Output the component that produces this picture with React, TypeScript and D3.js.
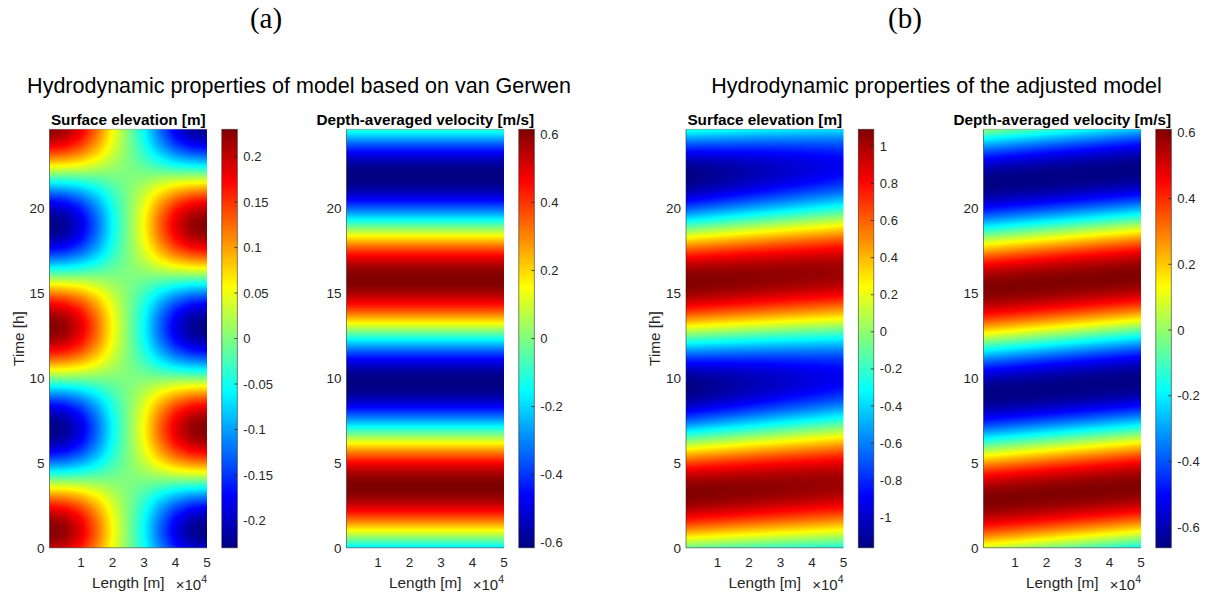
import React, { useMemo } from 'react';
import * as d3 from 'd3';

// ---------- data ----------
const timeDomainH = [0, 24.65];
const lengthDomainM = [0, 50000];
const xTickValues = [10000, 20000, 30000, 40000, 50000];
const xTickLabels = ['1', '2', '3', '4', '5'];
const yTickValues = [0, 5, 10, 15, 20];

const figureLabels = ['(a)', '(b)'];
const groupTitles = [
  'Hydrodynamic properties of model based on van Gerwen',
  'Hydrodynamic properties of the adjusted model',
];
const panelTitles = [
  'Surface elevation [m]',
  'Depth-averaged velocity [m/s]',
  'Surface elevation [m]',
  'Depth-averaged velocity [m/s]',
];
const showYLabel = [true, false, true, false];

const colorbarDomains = [
  [-0.23, 0.23],
  [-0.615, 0.615],
  [-1.165, 1.092],
  [-0.663, 0.611],
];
const colorbarTicks = [
  [-0.2, -0.15, -0.1, -0.05, 0, 0.05, 0.1, 0.15, 0.2],
  [-0.6, -0.4, -0.2, 0, 0.2, 0.4, 0.6],
  [-1, -0.8, -0.6, -0.4, -0.2, 0, 0.2, 0.4, 0.6, 0.8, 1],
  [-0.6, -0.4, -0.2, 0, 0.2, 0.4, 0.6],
];

// tidal wave (values at x = 0 and at x = L)
const waveKind = ['standing', 'uniform', 'progressive', 'progressive'];
const wavePeriodH = [12.0, 12.2, 12.45, 12.45];
const peakTimeX0H = [1.0, 3.6, 3.2, 2.8];
const peakTimeXLH = [1.0, 3.6, 3.8, 3.6];
const maxX0 = [0.23, 0.615, 1.09, 0.61];
const minX0 = [-0.23, -0.615, -1.165, -0.66];
const maxXL = [0.23, 0.615, 1.03, 0.61];
const minXL = [-0.23, -0.615, -0.9, -0.66];

// standing-wave elevation (panel a, left): relative amplitude along the basin
const standingProfileX = [0, 5000, 10000, 15000, 20000, 25000, 30000, 35000, 40000, 45000, 50000];
const standingProfileRel = [1, 0.95, 0.8, 0.55, 0.25, 0, -0.25, -0.55, -0.8, -0.95, -1];

// MATLAB jet colormap anchors
const jetPositions = [0, 0.125, 0.375, 0.625, 0.875, 1];
const jetColors = ['#000080', '#0000ff', '#00ffff', '#ffff00', '#ff0000', '#800000'];

// ---------- layout ----------
const W = 1212;
const H = 595;
const plotLefts = [49.5, 346.5, 686, 983.5];
const plotW = 157.5;
const plotTop = 129.3;
const plotBottom = 547.8;
const cbarOffset = 172.3;
const cbarW = 15.5;
const groupCenters = [299, 936.5];
const labelCenters = [266, 905];

const FONT = '"Liberation Sans", Arial, Helvetica, sans-serif';
const AX = '#262626';

const jet = d3
  .scaleLinear<string>()
  .domain(jetPositions)
  .range(jetColors)
  .interpolate(d3.interpolateRgb)
  .clamp(true);

const LUT = d3.range(256).map((i) => d3.rgb(jet(i / 255)));

const standingProfile = d3
  .scaleLinear()
  .domain(standingProfileX)
  .range(standingProfileRel)
  .clamp(true);

function fieldValue(i: number, x: number, t: number): number {
  const L = lengthDomainM[1];
  const f = x / L;
  const T = wavePeriodH[i];
  if (waveKind[i] === 'standing') {
    const A = maxX0[i];
    return A * standingProfile(x) * Math.cos((2 * Math.PI * (t - peakTimeX0H[i])) / T);
  }
  const tp = peakTimeX0H[i] + (peakTimeXLH[i] - peakTimeX0H[i]) * f;
  const mx = maxX0[i] + (maxXL[i] - maxX0[i]) * f;
  const mn = minX0[i] + (minXL[i] - minX0[i]) * f;
  const mid = (mx + mn) / 2;
  const amp = (mx - mn) / 2;
  return mid + amp * Math.cos((2 * Math.PI * (t - tp)) / T);
}

function makeFieldImage(i: number, xs: d3.ScaleLinear<number, number>, ys: d3.ScaleLinear<number, number>) {
  const w = Math.round(plotW * 2);
  const h = Math.round((plotBottom - plotTop) * 2);
  const canvas = document.createElement('canvas');
  canvas.width = w;
  canvas.height = h;
  const ctx = canvas.getContext('2d');
  if (!ctx) return '';
  const img = ctx.createImageData(w, h);
  const cs = d3.scaleLinear().domain(colorbarDomains[i]).range([0, 255]).clamp(true);
  const x0 = xs.range()[0];
  for (let py = 0; py < h; py++) {
    const t = ys.invert(plotTop + ((py + 0.5) / h) * (plotBottom - plotTop));
    for (let px = 0; px < w; px++) {
      const x = xs.invert(x0 + ((px + 0.5) / w) * plotW);
      const v = fieldValue(i, x, t);
      const c = LUT[Math.round(cs(v))];
      const k = (py * w + px) * 4;
      img.data[k] = c.r;
      img.data[k + 1] = c.g;
      img.data[k + 2] = c.b;
      img.data[k + 3] = 255;
    }
  }
  ctx.putImageData(img, 0, 0);
  return canvas.toDataURL();
}

function makeColorbarImage() {
  const h = 512;
  const canvas = document.createElement('canvas');
  canvas.width = 1;
  canvas.height = h;
  const ctx = canvas.getContext('2d');
  if (!ctx) return '';
  const img = ctx.createImageData(1, h);
  for (let py = 0; py < h; py++) {
    const c = LUT[Math.round(255 * (1 - (py + 0.5) / h))];
    img.data[py * 4] = c.r;
    img.data[py * 4 + 1] = c.g;
    img.data[py * 4 + 2] = c.b;
    img.data[py * 4 + 3] = 255;
  }
  ctx.putImageData(img, 0, 0);
  return canvas.toDataURL();
}

function Panel({ i, cbarUrl }: { i: number; cbarUrl: string }) {
  const left = plotLefts[i];
  const xs = d3.scaleLinear().domain(lengthDomainM).range([left, left + plotW]);
  const ys = d3.scaleLinear().domain(timeDomainH).range([plotBottom, plotTop]);
  const url = useMemo(() => makeFieldImage(i, xs, ys), [i]);
  const cx = left + plotW / 2;
  const cbL = left + cbarOffset;
  const cs = d3.scaleLinear().domain(colorbarDomains[i]).range([plotBottom, plotTop]);
  return (
    <g>
      <image
        href={url}
        x={left}
        y={plotTop}
        width={plotW}
        height={plotBottom - plotTop}
        preserveAspectRatio="none"
      />
      <line x1={left} x2={left + plotW} y1={plotTop} y2={plotTop} stroke={AX} strokeOpacity={0.35} strokeWidth={0.8} />
      <line x1={left} x2={left} y1={plotTop} y2={plotBottom} stroke={AX} strokeOpacity={0.7} strokeWidth={0.8} />
      <line x1={left} x2={left + plotW} y1={plotBottom} y2={plotBottom} stroke={AX} strokeOpacity={0.7} strokeWidth={0.8} />
      <text x={cx} y={125} textAnchor="middle" fontFamily={FONT} fontWeight="bold" fontSize={15.3} fill="#000">
        {panelTitles[i]}
      </text>
      {xTickValues.map((v, k) => (
        <text key={k} x={xs(v)} y={567} textAnchor="middle" fontFamily={FONT} fontSize={13.5} fill={AX}>
          {xTickLabels[k]}
        </text>
      ))}
      {yTickValues.map((v) => (
        <text key={v} x={left - 5} y={ys(v)} dy="0.35em" textAnchor="end" fontFamily={FONT} fontSize={13.5} fill={AX}>
          {v}
        </text>
      ))}
      <text x={cx} y={588} textAnchor="middle" fontFamily={FONT} fontSize={15.3} fill={AX}>
        Length [m]
      </text>
      <text x={left + plotW} y={590} textAnchor="end" fontFamily={FONT} fontSize={15} fill={AX}>
        <tspan>×10</tspan>
        <tspan fontSize={10.5} dy={-7}>4</tspan>
      </text>
      {showYLabel[i] && (
        <text
          transform={`translate(${left - 31},${(plotTop + plotBottom) / 2}) rotate(-90)`}
          dy="0.35em"
          textAnchor="middle"
          fontFamily={FONT}
          fontSize={15.3}
          fill={AX}
        >
          Time [h]
        </text>
      )}
      <image href={cbarUrl} x={cbL} y={plotTop} width={cbarW} height={plotBottom - plotTop} preserveAspectRatio="none" />
      <rect x={cbL} y={plotTop} width={cbarW} height={plotBottom - plotTop} fill="none" stroke={AX} strokeOpacity={0.7} strokeWidth={0.8} />
      {colorbarTicks[i].map((v) => (
        <g key={v}>
          <line x1={cbL + cbarW - 3} x2={cbL + cbarW} y1={cs(v)} y2={cs(v)} stroke={AX} strokeWidth={0.8} />
          <text x={cbL + cbarW + 6} y={cs(v)} dy="0.35em" fontFamily={FONT} fontSize={13} fill={AX}>
            {String(v)}
          </text>
        </g>
      ))}
    </g>
  );
}

export default function App() {
  const cbarUrl = useMemo(() => makeColorbarImage(), []);
  return (
    <div style={{ position: 'absolute', left: 0, top: 0 }}>
      <svg width={W} height={H} viewBox={`0 0 ${W} ${H}`} style={{ display: 'block', background: '#fff' }}>
        <rect width={W} height={H} fill="#fff" />
        {figureLabels.map((s, k) => (
          <text key={s} x={labelCenters[k]} y={27.5} textAnchor="middle" fontFamily='"Liberation Serif", "Times New Roman", serif' fontSize={29} fill="#000">
            {s}
          </text>
        ))}
        {groupTitles.map((s, k) => (
          <text key={s} x={groupCenters[k]} y={93} textAnchor="middle" fontFamily={FONT} fontSize={21.5} fill="#000">
            {s}
          </text>
        ))}
        {[0, 1, 2, 3].map((i) => (
          <Panel key={i} i={i} cbarUrl={cbarUrl} />
        ))}
      </svg>
    </div>
  );
}
